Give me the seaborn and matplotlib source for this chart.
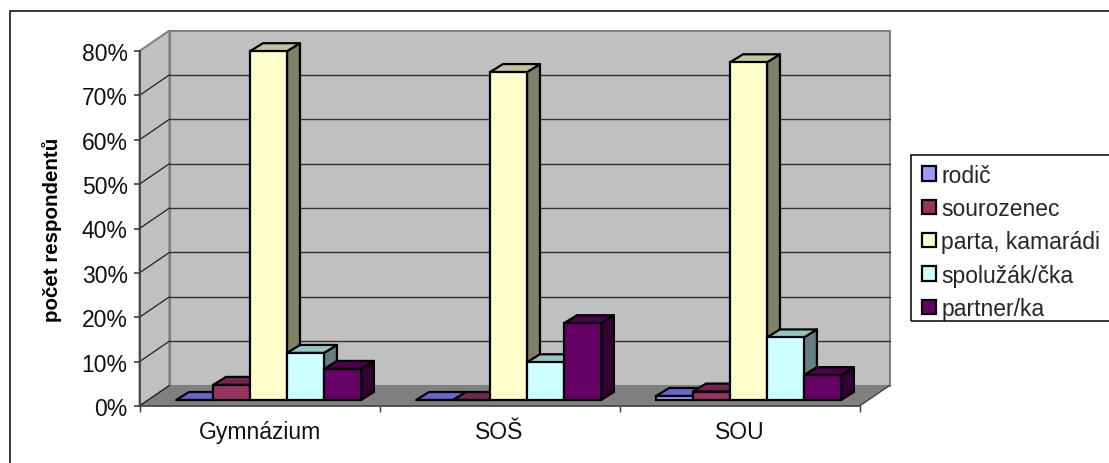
import pandas as pd
import matplotlib.pyplot as plt
import seaborn as sns
from matplotlib.patches import Polygon, Rectangle
from matplotlib.ticker import PercentFormatter

schools = ['Gymnázium', 'SOŠ', 'SOU']
answers = ['rodič', 'sourozenec', 'parta, kamarádi', 'spolužák/čka', 'partner/ka']
rodic = [0.0, 0.0, 0.009]
sourozenec = [0.034, 0.0, 0.019]
parta = [0.786, 0.739, 0.761]
spoluzak = [0.106, 0.085, 0.141]
partner = [0.07, 0.173, 0.056]

front_colors = ['#9999FF', '#993366', '#FFFFCC', '#CCFFFF', '#660066']
top_colors = ['#6666CC', '#732650', '#C4C49A', '#99C4C4', '#4D004D']
side_colors = ['#4D4D80', '#4D1A33', '#808066', '#668080', '#330033']

WIDTH, HEIGHT = 1109, 464
# how far the back wall sits behind the front plane, and the bars inside it
WALL_DX, WALL_DY = 30 / 240, 20.5 / 355 * 0.8
BAR_DX, BAR_DY = 9 / 240, 6 / 355 * 0.8
DEPTH_DX, DEPTH_DY = 13 / 240, 8 / 355 * 0.8

sns.set_theme(style='white')
plt.rcParams['font.family'] = ['Liberation Sans', 'DejaVu Sans']

df = pd.DataFrame({
    'school': schools * 5,
    'answer': [a for a in answers for _ in schools],
    'value': rodic + sourozenec + parta + spoluzak + partner,
})

fig = plt.figure(figsize=(WIDTH / 100, HEIGHT / 100), dpi=100)
fig.add_artist(Rectangle((9.5 / WIDTH, -0.1), 1.2, 1.1 - 12.5 / HEIGHT, transform=fig.transFigure,
                         facecolor='none', edgecolor='black', linewidth=1.1))
# legend box runs off the right edge of the picture
fig.add_artist(Rectangle((911.5 / WIDTH, 1 - 322 / HEIGHT), 0.2, 166 / HEIGHT, transform=fig.transFigure,
                         facecolor='none', edgecolor='black', linewidth=1.1))
ax = fig.add_axes([139.5 / WIDTH, 1 - 407 / HEIGHT, 720 / WIDTH, 355 / HEIGHT])
ax.patch.set_visible(False)

sns.barplot(data=df, x='school', y='value', hue='answer', order=schools, hue_order=answers,
            palette=front_colors, saturation=1, width=0.77, edgecolor='black', linewidth=1.6, ax=ax)
ax.set_xlim(-0.5, 2.5)
ax.set_ylim(0, 0.8)

# walls and floor
x0, x1 = -0.5, 2.5
wall_kw = dict(clip_on=False, zorder=0.5)
ax.add_patch(Polygon([(x0, 0), (x0 + WALL_DX, WALL_DY), (x1 + WALL_DX, WALL_DY), (x1, 0)],
                     facecolor='#808080', edgecolor='none', **wall_kw))
ax.add_patch(Polygon([(x0, 0), (x0, 0.8), (x0 + WALL_DX, 0.8 + WALL_DY), (x0 + WALL_DX, WALL_DY)],
                     facecolor='#C0C0C0', edgecolor='#808080', linewidth=1.5, **wall_kw))
ax.add_patch(Rectangle((x0 + WALL_DX, WALL_DY), x1 - x0, 0.8, facecolor='#C0C0C0',
                       edgecolor='#808080', linewidth=1.5, **wall_kw))
ax.plot([x1, x1 + WALL_DX], [0, WALL_DY], color='#404040', lw=1, clip_on=False, zorder=0.7)

ticks = [i / 10 for i in range(9)]
for t in ticks[:-1]:
    ax.plot([x0, x0 + WALL_DX], [t, t + WALL_DY], color='#202020', lw=0.9, clip_on=False, zorder=0.7)
    if t > 0:
        ax.plot([x0 + WALL_DX, x1 + WALL_DX], [t + WALL_DY, t + WALL_DY], color='#303030', lw=1,
                clip_on=False, zorder=0.7)

# give the flat seaborn bars their top and side faces
bars = []
for color_i, container in enumerate(ax.containers):
    for bar in container:
        bars.append((bar, color_i))
bars.sort(key=lambda item: item[0].get_x())

for i, (bar, color_i) in enumerate(bars):
    bar.set_x(bar.get_x() + BAR_DX)
    bar.set_y(BAR_DY)
    bar.set_clip_on(False)
    bar.set_zorder(3 + i)
    left = bar.get_x()
    right = left + bar.get_width()
    low = bar.get_y()
    high = low + bar.get_height()
    face_kw = dict(edgecolor='black', linewidth=1.6, clip_on=False, zorder=3 + i - 0.5, joinstyle='round')
    ax.add_patch(Polygon([(right, low), (right + DEPTH_DX, low + DEPTH_DY),
                          (right + DEPTH_DX, high + DEPTH_DY), (right, high)],
                         facecolor=side_colors[color_i], **face_kw))
    ax.add_patch(Polygon([(left, high), (left + DEPTH_DX, high + DEPTH_DY),
                          (right + DEPTH_DX, high + DEPTH_DY), (right, high)],
                         facecolor=top_colors[color_i], **face_kw))

ax.set_xlabel('')
ax.set_ylabel('počet respondentů', fontsize=14.8, fontweight='bold', color='black', labelpad=14)
ax.set_yticks(ticks)
ax.yaxis.set_major_formatter(PercentFormatter(1, decimals=0))
ax.tick_params(axis='y', left=True, length=4, width=1.1, color='#303030', labelsize=16.5,
               labelcolor='#111111', pad=4.5)
ax.set_xticks([0, 1, 2], schools)
ax.set_xticks([-0.5, 0.5, 1.5, 2.5], minor=True)
ax.tick_params(axis='x', which='major', bottom=False, labelsize=16.5, labelcolor='#111111', pad=4)
ax.tick_params(axis='x', which='minor', bottom=True, length=4, width=1, color='#303030')

for side in ['top', 'right']:
    ax.spines[side].set_visible(False)
for side in ['left', 'bottom']:
    ax.spines[side].set_color('#404040')
    ax.spines[side].set_linewidth(1.2)
    ax.spines[side].set_zorder(2)

handles, labels = ax.get_legend_handles_labels()
ax.legend(handles, labels, loc='upper left', bbox_to_anchor=(913.5 / WIDTH, 1 - 156 / HEIGHT),
          bbox_transform=fig.transFigure, borderaxespad=0, fontsize=16.5, frameon=False,
          handlelength=0.59, handleheight=0.59,
          handletextpad=0.25, labelspacing=0.45, borderpad=0.38)

fig.savefig('out.png', dpi=100)
